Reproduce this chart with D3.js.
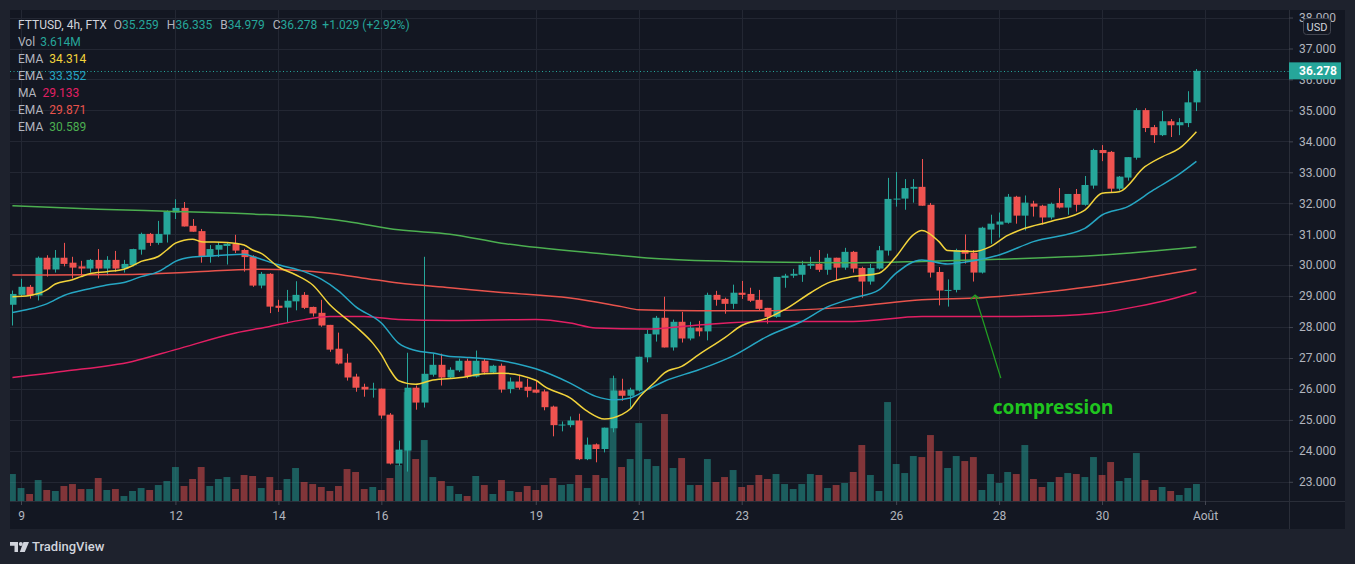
<!DOCTYPE html>
<html>
<head>
<meta charset="utf-8">
<script src="https://cdn.jsdelivr.net/npm/d3@7"></script>
<style>
  body { margin: 0; background: #1e222d; }
  svg { display: block; font-family: Roboto, "Noto Sans", sans-serif; }
</style>
</head>
<body>
<svg id="chart" width="1355" height="564"></svg>
<script>
// FTTUSD 4h candles, first one is 8 July 20:00, one every 4 hours
var open = [28.72,29.04,29.30,29.02,30.24,29.86,30.24,30.08,29.96,29.89,
  30.17,29.89,30.17,29.89,30.00,30.50,31.01,30.72,30.99,31.70,
  31.85,31.27,31.10,30.28,30.50,30.62,30.69,30.49,30.28,29.34,
  29.72,28.69,28.63,28.83,29.04,28.65,28.46,28.07,27.30,26.85,
  26.40,26.07,26.00,26.01,25.17,23.59,24.01,26.04,25.56,26.46,
  26.78,26.37,26.60,26.91,26.40,26.91,26.53,26.75,26.00,26.24,
  26.07,25.98,25.92,25.43,24.83,24.83,24.98,23.73,24.21,24.06,
  24.73,25.95,25.78,25.95,27.02,27.76,28.30,27.34,28.17,27.63,
  27.98,27.86,29.04,28.91,28.75,29.11,29.07,28.88,28.62,28.33,
  29.59,29.66,29.69,29.98,30.04,29.85,30.24,29.92,30.43,29.91,
  29.47,29.89,30.47,32.13,32.15,32.47,32.53,31.95,29.78,29.18,
  29.20,30.49,30.40,29.76,31.15,31.31,31.37,32.21,31.60,31.99,
  31.92,31.54,32.01,31.86,32.30,31.95,32.57,33.72,33.66,32.47,
  32.83,33.47,35.01,34.46,34.20,34.65,34.52,34.59,35.259]
var high = [29.18,29.56,29.36,30.28,30.32,30.49,30.72,30.27,30.14,30.20,
  30.52,30.29,30.46,30.17,30.53,31.05,31.04,31.43,31.77,32.13,
  32.04,31.49,31.17,30.65,30.75,30.75,30.98,30.53,30.32,29.78,
  29.74,28.88,29.20,29.48,29.13,28.66,28.88,28.07,27.82,27.14,
  26.49,26.17,26.20,26.01,25.22,24.33,27.17,26.11,30.27,27.14,
  27.14,26.70,26.98,26.98,27.24,26.98,26.78,26.82,26.37,26.46,
  26.33,26.27,25.98,25.46,24.95,25.11,25.20,24.43,24.24,24.75,
  26.43,26.33,26.04,27.04,27.91,28.36,28.98,28.24,28.49,28.17,
  28.20,29.11,29.17,28.95,29.37,29.49,29.27,29.20,28.62,29.62,
  29.72,29.88,30.14,30.27,30.49,30.37,30.24,30.56,30.46,29.95,
  30.04,30.62,32.82,33.01,32.78,32.78,33.43,32.01,29.94,29.54,
  30.53,30.99,30.49,31.24,31.63,31.70,32.30,32.24,32.25,32.08,
  31.95,32.02,32.49,32.30,32.46,32.88,33.76,33.88,33.69,32.88,
  33.49,35.07,35.07,34.53,34.98,34.72,34.75,35.62,36.335]
var low = [28.05,29.00,28.92,28.86,29.63,29.76,29.96,29.57,29.63,29.76,
  29.57,29.67,29.79,29.76,29.96,30.34,30.62,30.66,30.73,31.49,
  31.25,31.08,30.08,30.08,30.26,30.02,30.39,29.79,29.30,29.25,
  28.45,28.49,28.15,28.54,28.58,28.34,28.01,27.20,26.79,26.27,
  25.91,25.75,25.72,25.04,23.56,23.52,23.33,25.33,25.40,26.40,
  26.11,26.32,26.55,26.34,26.37,26.47,26.50,25.88,25.86,25.98,
  25.73,25.86,25.31,24.47,24.63,24.76,23.70,23.70,23.63,23.95,
  24.60,25.62,25.40,25.92,26.86,27.53,27.34,27.24,27.50,27.57,
  27.70,27.57,28.69,28.43,28.59,28.91,28.81,28.53,28.11,28.30,
  29.27,29.59,29.46,29.88,29.78,29.69,29.49,29.85,29.76,28.95,
  29.37,29.86,30.31,31.89,31.79,32.02,31.92,29.60,28.70,28.66,
  29.12,30.05,29.47,29.73,30.69,30.89,31.34,31.34,31.12,31.57,
  31.31,31.48,31.83,31.63,31.73,31.92,32.47,33.36,32.34,32.41,
  32.73,33.41,34.30,33.95,34.17,34.14,34.20,34.46,34.979]
var close = [29.07,29.30,29.02,30.24,29.86,30.24,30.04,29.92,29.89,30.17,
  29.89,30.17,29.89,30.04,30.52,31.01,30.72,31.01,31.73,31.85,
  31.25,31.08,30.28,30.52,30.65,30.69,30.47,30.26,29.34,29.72,
  28.66,28.62,28.85,29.04,28.62,28.44,28.05,27.27,26.82,26.37,
  26.04,25.98,26.01,25.14,23.59,24.04,26.04,25.56,26.49,26.78,
  26.37,26.62,26.91,26.40,26.91,26.53,26.75,25.98,26.24,26.04,
  25.94,25.88,25.41,24.83,24.85,24.98,23.73,24.20,24.06,24.75,
  25.95,25.78,25.98,27.04,27.78,28.30,27.34,28.17,27.63,27.98,
  27.86,29.04,28.88,28.75,29.11,29.04,28.85,28.59,28.33,29.62,
  29.66,29.72,30.01,30.04,29.85,30.24,29.92,30.43,29.89,29.47,
  29.91,30.48,32.14,32.15,32.49,32.53,31.92,29.76,29.18,29.20,
  30.49,30.37,29.76,31.21,31.34,31.41,32.21,31.60,32.02,31.89,
  31.54,31.98,31.86,32.30,31.95,32.59,33.72,33.62,32.47,32.86,
  33.49,35.01,34.43,34.20,34.65,34.52,34.62,35.26,36.278]
// volume in millions
var volume = [5.74,2.76,1.49,4.46,2.34,2.13,3.19,3.61,2.55,2.55,
  4.89,2.34,2.55,1.06,2.13,2.76,2.34,3.40,4.25,7.23,
  3.19,4.68,7.23,3.19,4.68,5.10,2.55,5.53,5.32,2.76,
  5.10,2.34,4.68,7.02,4.04,3.61,2.98,2.13,3.19,6.80,
  6.17,2.55,2.98,2.34,4.89,7.65,23.17,8.93,12.97,5.10,
  4.25,3.19,1.49,1.06,5.32,3.40,1.49,4.46,2.13,1.91,
  3.19,2.34,3.40,4.89,3.40,3.61,5.53,2.76,5.53,4.89,
  26.15,7.23,8.93,16.58,8.93,7.44,18.50,7.02,9.14,3.40,
  3.40,8.93,4.04,5.10,6.59,2.98,3.40,5.53,4.68,5.74,
  3.61,2.55,3.61,5.74,5.53,2.76,3.40,3.83,6.17,11.91,
  5.53,2.13,21.05,7.87,5.95,9.57,9.35,14.03,10.63,7.02,
  9.57,8.50,9.35,2.34,5.74,3.83,6.17,5.74,11.91,4.68,
  2.98,4.04,5.10,5.95,5.74,5.10,9.35,5.53,8.29,4.25,
  4.89,10.20,4.46,2.34,2.98,2.13,1.28,2.76,3.614]

// moving averages: candle index -> value
var emaFastIdx = [0,2,4,5,7,8,9,11,13,14,15,17,18,19,21,22,25,27,28,29,31,33,35,37,40,42,43,44,45,47,
  49,52,55,57,61,62,65,67,69,71,72,73,75,76,78,80,83,85,88,90,93,95,98,101,103,105,106,108,109,112,
  114,116,118,121,125,127,129,132,134,136,138]
var emaFast = [28.98,29.02,29.20,29.39,29.53,29.63,29.72,29.79,29.87,29.98,30.12,30.28,30.49,30.71,30.84,
  30.76,30.73,30.65,30.49,30.38,29.94,29.69,29.36,28.72,28.02,27.48,27.11,26.62,26.27,26.15,
  26.29,26.36,26.49,26.51,26.28,26.08,25.71,25.28,25.03,25.17,25.35,25.71,26.25,26.52,26.73,
  27.11,27.65,28.05,28.29,28.56,29.10,29.42,29.63,29.74,30.28,30.98,31.12,30.76,30.47,30.44,
  30.60,30.96,31.19,31.41,31.78,32.32,32.37,33.18,33.50,33.77,34.314]
var emaMidIdx = [0,2,4,6,9,11,13,15,17,18,19,21,24,27,28,29,31,34,36,38,40,43,45,47,49,51,53,57,61,65,
  68,70,72,74,76,80,84,88,92,95,98,101,103,106,109,112,115,119,125,127,130,133,136,138]
var emaMid = [28.47,28.58,28.75,29.02,29.24,29.36,29.44,29.63,29.79,29.95,30.12,30.26,30.31,30.35,30.28,
  30.19,30.01,29.79,29.55,29.17,28.66,28.13,27.48,27.24,27.16,27.05,27.02,26.91,26.65,26.19,
  25.76,25.65,25.71,25.98,26.25,26.62,27.07,27.70,28.18,28.65,28.94,29.20,29.74,30.17,30.04,
  30.14,30.33,30.76,31.19,31.62,31.89,32.43,32.94,33.352]
var maIdx = [0,6,14,19,26,30,34,37,41,45,51,61,65,68,74,78,82,88,98,106,115,121,127,131,135,138]
var ma = [26.37,26.57,26.89,27.27,27.81,28.02,28.24,28.34,28.34,28.24,28.21,28.24,28.13,27.97,27.94,
  28.02,28.11,28.18,28.18,28.34,28.34,28.36,28.47,28.66,28.90,29.133]
var emaRedIdx = [0,14,21,29,37,41,45,51,57,65,71,73,80,88,98,106,113,121,127,133,138]
var emaRed = [29.68,29.70,29.78,29.87,29.74,29.58,29.42,29.27,29.12,28.94,28.66,28.56,28.53,28.53,28.66,
  28.88,28.95,29.15,29.36,29.63,29.871]
var emaGreenIdx = [0,10,18,28,34,39,45,51,57,69,74,84,98,106,115,127,138]
var emaGreen = [31.92,31.81,31.74,31.65,31.57,31.41,31.14,31.00,30.71,30.36,30.23,30.12,30.08,30.12,
  30.19,30.33,30.589]

// axes
var priceTicks = [23,24,25,26,27,28,29,30,31,32,33,34,35,36,37,38]
var timeTicks = [[6,9],[6,12],[6,14],[6,16],[6,19],[6,21],[6,23],[6,26],[6,28],[6,30],[7,1]]
var timeLabels = ['9','12','14','16','19','21','23','26','28','30','Août']

// annotation: arrow tip / tail and label (candle index, price)
var noteTip = [112.2, 29.03]
var noteTail = [115.2, 26.35]
var noteLabel = [121.3, 25.4]

var up = '#26a69a', down = '#ef5350'
var grey = '#b2b5be'

var t0 = Date.UTC(2021, 6, 8, 20)
var H4 = 4 * 3600 * 1000
var timeOf = i => new Date(t0 + i * H4)

var L = 10, T = 10, R = 1289, B = 501

var svg = d3.select('#chart')

var x = d3.scaleUtc()
  .domain([new Date(Date.UTC(2021, 6, 9)), new Date(Date.UTC(2021, 7, 1))])
  .range([21, 1205])
var y = d3.scaleLinear().domain([23, 37]).range([481.8, 48.5])
var yv = d3.scaleLinear().domain([0, 30]).range([B, B - 141])
var bw = (x(timeOf(1)) - x(timeOf(0))) * 0.8

// backgrounds
svg.append('rect').attr('width', 1355).attr('height', 564).attr('fill', '#1e222d')
svg.append('rect').attr('x', L).attr('y', T).attr('width', 1345 - L).attr('height', 529 - T)
  .attr('fill', '#131722')

svg.append('clipPath').attr('id', 'plot')
  .append('rect').attr('x', L).attr('y', T).attr('width', R - L).attr('height', B - T)

// grid
var grid = svg.append('g').attr('stroke', '#232733').attr('stroke-width', 1)
grid.selectAll('.h').data(priceTicks).enter().append('line')
  .attr('x1', L).attr('x2', R)
  .attr('y1', d => Math.round(y(d)) + 0.5).attr('y2', d => Math.round(y(d)) + 0.5)
var tickDates = timeTicks.map(d => new Date(Date.UTC(2021, d[0], d[1])))
grid.selectAll('.v').data(tickDates).enter().append('line')
  .attr('y1', T).attr('y2', B)
  .attr('x1', d => Math.round(x(d)) + 0.5).attr('x2', d => Math.round(x(d)) + 0.5)

var plot = svg.append('g').attr('clip-path', 'url(#plot)')

var idx = d3.range(open.length)

// volume
plot.append('g').selectAll('rect').data(idx).enter().append('rect')
  .attr('x', i => x(timeOf(i)) - bw / 2)
  .attr('width', bw)
  .attr('y', i => yv(volume[i]))
  .attr('height', i => B - yv(volume[i]))
  .attr('fill', i => close[i] >= open[i] ? up : down)
  .attr('fill-opacity', 0.5)

// candles
var cg = plot.append('g')
cg.selectAll('line').data(idx).enter().append('line')
  .attr('x1', i => Math.round(x(timeOf(i))) + 0.5)
  .attr('x2', i => Math.round(x(timeOf(i))) + 0.5)
  .attr('y1', i => y(high[i]))
  .attr('y2', i => y(low[i]))
  .attr('stroke', i => close[i] >= open[i] ? up : down)
cg.selectAll('rect').data(idx).enter().append('rect')
  .attr('x', i => Math.round(x(timeOf(i)) - bw / 2) + 0.5)
  .attr('width', Math.round(bw))
  .attr('y', i => y(Math.max(open[i], close[i])))
  .attr('height', i => Math.max(1, Math.abs(y(open[i]) - y(close[i]))))
  .attr('fill', i => close[i] >= open[i] ? up : down)

// moving average lines
var maLine = d3.line()
  .x(d => x(timeOf(d[0])))
  .y(d => y(d[1]))
  .curve(d3.curveMonotoneX)
var series = [
  { idx: emaGreenIdx, val: emaGreen, color: '#4caf50', label: 'EMA' },
  { idx: emaRedIdx, val: emaRed, color: '#e8534c', label: 'EMA' },
  { idx: maIdx, val: ma, color: '#e21f63', label: 'MA' },
  { idx: emaMidIdx, val: emaMid, color: '#26a6c3', label: 'EMA' },
  { idx: emaFastIdx, val: emaFast, color: '#f2d33b', label: 'EMA' }
]
series.forEach(s => {
  plot.append('path')
    .attr('d', maLine(s.idx.map((k, j) => [k, s.val[j]])))
    .attr('fill', 'none')
    .attr('stroke', s.color)
    .attr('stroke-width', 1.5)
})

// last price line
var last = close[close.length - 1]
plot.append('line')
  .attr('x1', L).attr('x2', R)
  .attr('y1', Math.round(y(last)) + 0.5).attr('y2', Math.round(y(last)) + 0.5)
  .attr('stroke', up).attr('stroke-dasharray', '1,2.5')

// annotation
var ag = svg.append('g').attr('stroke', '#22a022').attr('stroke-width', 1.3).attr('fill', 'none')
var tipX = x(timeOf(noteTip[0])), tipY = y(noteTip[1])
ag.append('line')
  .attr('x1', x(timeOf(noteTail[0]))).attr('y1', y(noteTail[1]))
  .attr('x2', tipX).attr('y2', tipY)
ag.append('polyline')
  .attr('points', [[tipX - 4.5, tipY + 4], [tipX, tipY], [tipX + 4.5, tipY + 3.5]].join(' '))
svg.append('text')
  .attr('x', x(timeOf(noteLabel[0]))).attr('y', y(noteLabel[1]))
  .attr('text-anchor', 'middle').attr('dy', '0.35em')
  .attr('font-family', '"Noto Sans", sans-serif')
  .attr('font-weight', 'bold').attr('font-size', 19)
  .attr('fill', '#1fc41f')
  .text('compression')

// price axis
svg.append('line').attr('x1', R + 0.5).attr('x2', R + 0.5).attr('y1', T).attr('y2', 529)
  .attr('stroke', '#2a2e39')
svg.append('line').attr('x1', L).attr('x2', 1345).attr('y1', B + 0.5).attr('y2', B + 0.5)
  .attr('stroke', '#2a2e39')

var yAxis = svg.append('g').attr('transform', 'translate(' + R + ',0)')
  .call(d3.axisRight(y).tickValues(priceTicks).tickFormat(d3.format('.3f')).tickSize(4).tickPadding(6))
yAxis.select('.domain').remove()
yAxis.selectAll('line').attr('stroke', '#434651')
yAxis.selectAll('text').attr('fill', grey).attr('font-size', 12)
  .attr('font-family', 'Roboto, sans-serif')

var xAxis = svg.append('g').attr('transform', 'translate(0,' + B + ')')
  .call(d3.axisBottom(x).tickValues(tickDates).tickFormat((d, i) => timeLabels[i]).tickSize(4).tickPadding(6))
xAxis.select('.domain').remove()
xAxis.selectAll('line').attr('stroke', '#434651')
xAxis.selectAll('text').attr('fill', grey).attr('font-size', 12)
  .attr('font-family', 'Roboto, sans-serif')

// currency box over the top label
svg.append('rect').attr('x', 1303.5).attr('y', 18.5).attr('width', 27).attr('height', 16).attr('rx', 3)
  .attr('fill', '#131722').attr('stroke', '#434651')
svg.append('text').attr('x', 1317).attr('y', 27).attr('dy', '0.35em').attr('text-anchor', 'middle')
  .attr('fill', '#d1d4dc').attr('font-size', 11).text('USD')

// last price tag
svg.append('rect').attr('x', R).attr('y', y(last) - 8.5).attr('width', 52).attr('height', 17)
  .attr('fill', up)
svg.append('text').attr('x', R + 10).attr('y', y(last)).attr('dy', '0.35em')
  .attr('fill', '#ffffff').attr('font-size', 12).attr('font-weight', 'bold')
  .text(d3.format('.3f')(last))

// legend
var fmt = d3.format('.3f')
var legendRows = [
  [['FTTUSD, 4h, FTX', '#d1d4dc', 0], ['O', grey, 7], [fmt(open[138]), up, 0], ['H', grey, 8],
   [fmt(high[138]), up, 0], ['B', grey, 8], [fmt(low[138]), up, 0], ['C', grey, 8],
   [fmt(last), up, 0], ['+1.029 (+2.92%)', up, 5]],
  [['Vol', grey, 0], ['3.614M', up, 5]]
]
series.slice().reverse().forEach(s => {
  legendRows.push([[s.label, grey, 0], [fmt(s.val[s.val.length - 1]), s.color, 6]])
})
var lg = svg.append('g').attr('font-size', 12)
legendRows.forEach((row, r) => {
  var t = lg.append('text').attr('x', 18).attr('y', 29.3 + r * 17)
  row.forEach(p => t.append('tspan').attr('dx', p[2]).attr('fill', p[1]).text(p[0]))
})

// bottom brand
var brand = svg.append('g').attr('fill', '#d1d4dc')
brand.append('path').attr('d', 'M10 542 h8 v10 h-3.5 v-6.2 h-4.5 z')
brand.append('circle').attr('cx', 20.8).attr('cy', 544).attr('r', 2)
brand.append('path').attr('d', 'M23.5 542 h5.5 l-4.2 10 h-5 z')
brand.append('text').attr('x', 32).attr('y', 551).attr('font-size', 13)
  .attr('font-weight', 500).text('TradingView')
</script>
</body>
</html>
